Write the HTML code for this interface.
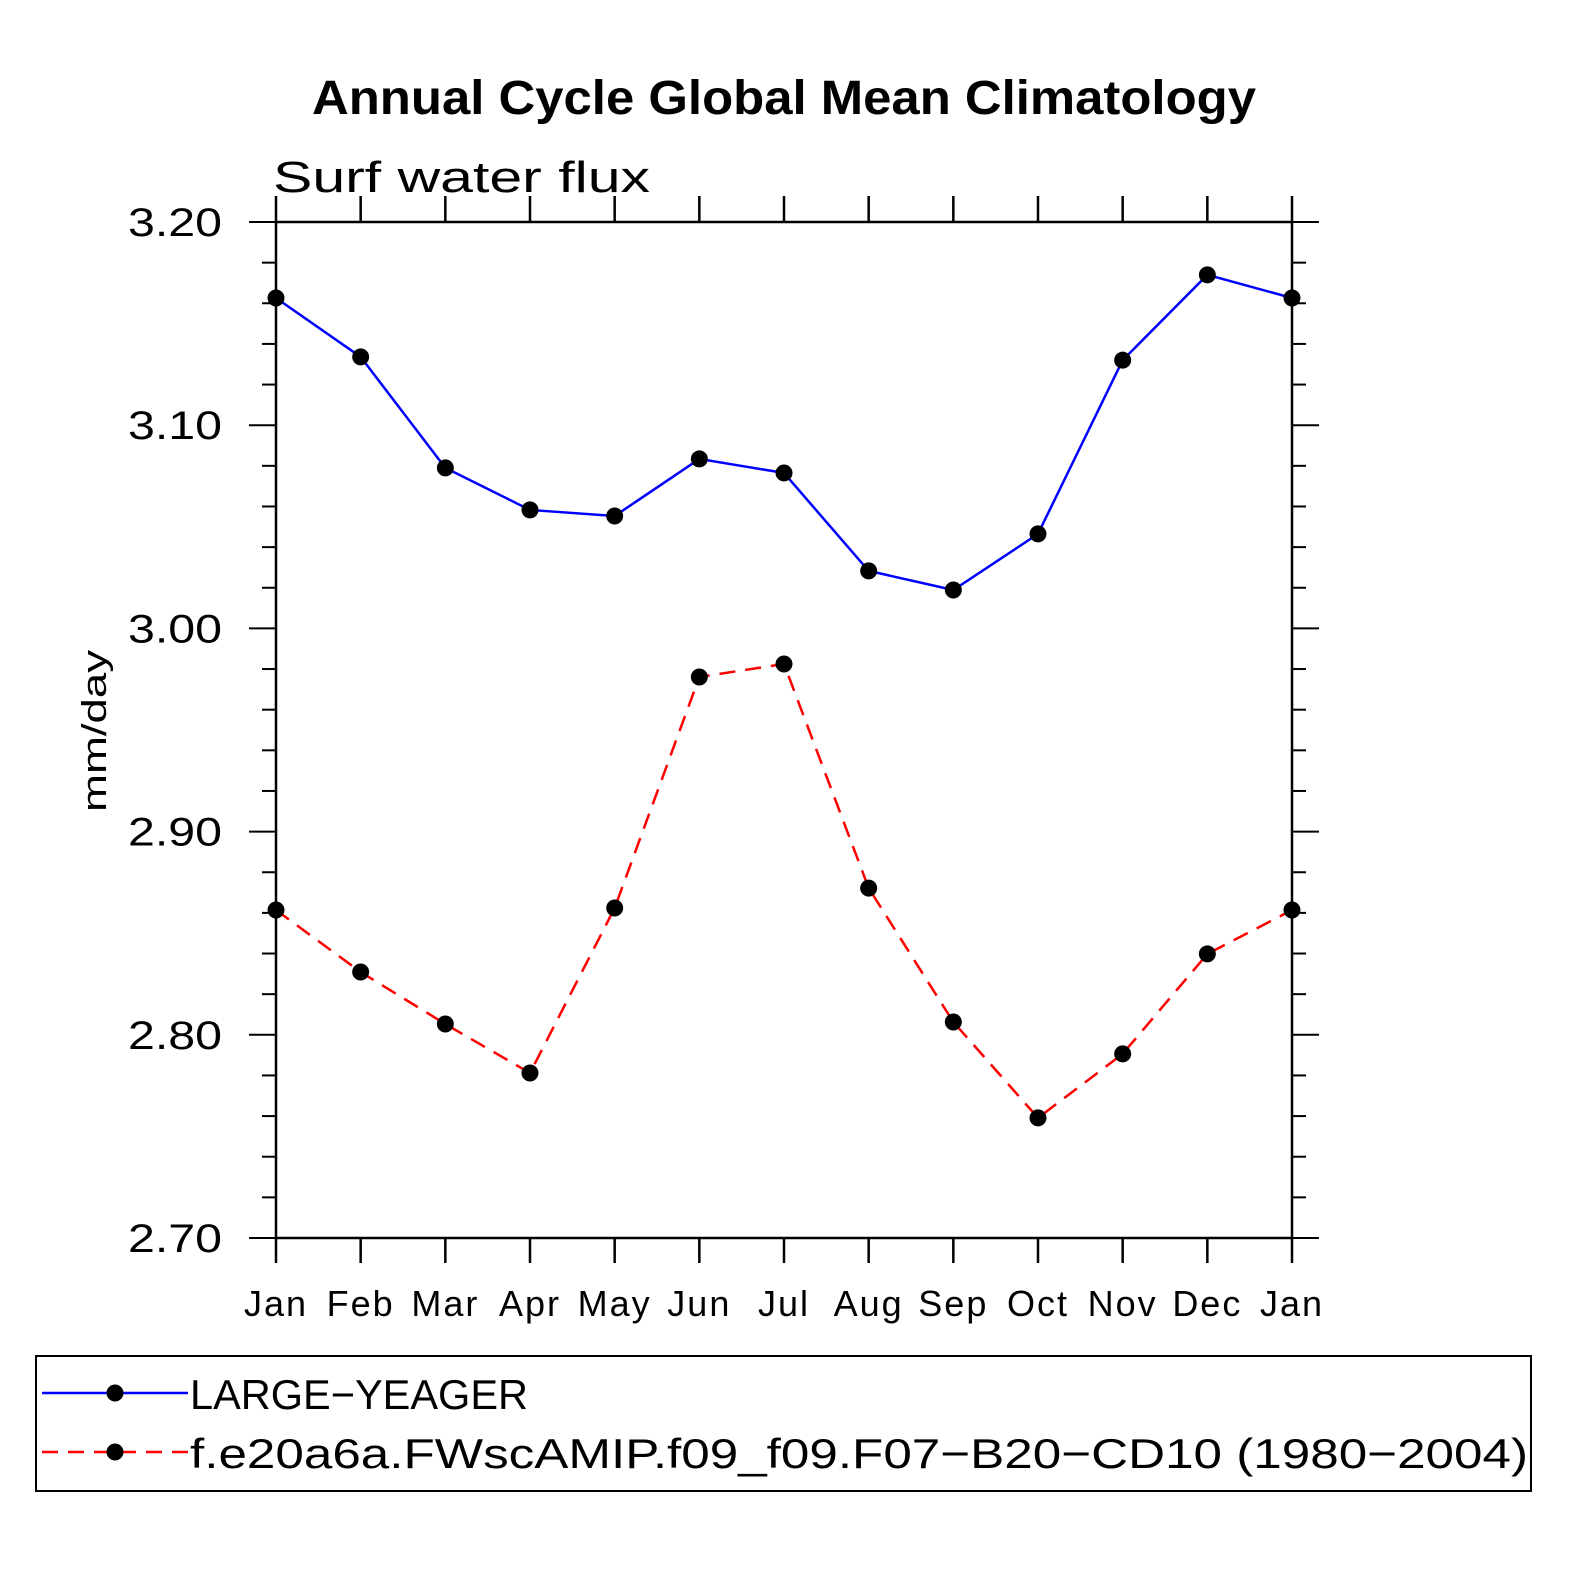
<!DOCTYPE html>
<html><head><meta charset="utf-8"><style>
html,body{margin:0;padding:0;background:#fff;}
svg{display:block;}
text{font-family:"Liberation Sans",sans-serif;}
</style></head><body>
<svg id="chart" width="1574" height="1574" viewBox="0 0 1574 1574">
<text x="312" y="114" textLength="944" lengthAdjust="spacingAndGlyphs" font-size="48" font-weight="bold">Annual Cycle Global Mean Climatology</text>
<text x="273" y="192" textLength="377" lengthAdjust="spacingAndGlyphs" font-size="44">Surf water flux</text>
<text transform="translate(106,731) rotate(-90)" x="-81" y="0" textLength="162" lengthAdjust="spacingAndGlyphs" font-size="34">mm/day</text>
<g id="axes"></g>
<g id="series"></g>
<rect x="36" y="1356" width="1495" height="135" fill="none" stroke="#000" stroke-width="2"/>
<g>
<line x1="42" y1="1393" x2="188" y2="1393" stroke="#0000ff" stroke-width="2.5"/>
<circle cx="115" cy="1393" r="8.5" fill="#000"/>
<text x="190" y="1409" textLength="338" lengthAdjust="spacingAndGlyphs" font-size="42">LARGE−YEAGER</text>
</g>
<g>
<line x1="42" y1="1452" x2="188" y2="1452" stroke="#ff0000" stroke-width="2.5" stroke-dasharray="16,10"/>
<circle cx="115" cy="1452" r="8.5" fill="#000"/>
<text x="190" y="1468" textLength="1338" lengthAdjust="spacingAndGlyphs" font-size="42">f.e20a6a.FWscAMIP.f09_f09.F07−B20−CD10 (1980−2004)</text>
</g>
</svg>
<script>
const months=["Jan","Feb","Mar","Apr","May","Jun","Jul","Aug","Sep","Oct","Nov","Dec","Jan"];
const largeYeager=[3.1626,3.1336,3.079,3.0583,3.0553,3.0834,3.0765,3.0283,3.0189,3.0465,3.132,3.174,3.1626];
const modelRun=[2.8614,2.8309,2.8053,2.7812,2.8624,2.9761,2.9825,2.8722,2.8063,2.7591,2.7906,2.8398,2.8614];
const yTicks=[2.70,2.80,2.90,3.00,3.10,3.20];
const NS="http://www.w3.org/2000/svg";
const X0=276,X1=1292,Y0=1238,Y1=222,YMIN=2.7,YMAX=3.2;
function xs(i){return X0+(X1-X0)*i/(months.length-1);}
function ys(v){return Y0-(v-YMIN)/(YMAX-YMIN)*(Y0-Y1);}
function mk(tag,attrs,parent){const e=document.createElementNS(NS,tag);for(const k in attrs)e.setAttribute(k,attrs[k]);parent.appendChild(e);return e;}
const ax=document.getElementById('axes');
const frame=mk('rect',{x:X0,y:Y1,width:X1-X0,height:Y0-Y1,fill:'none',stroke:'#000','stroke-width':2.5},ax);


months.forEach((m,i)=>{
  const x=xs(i);
  mk('line',{x1:x,y1:Y0,x2:x,y2:Y0+25,stroke:'#000','stroke-width':2.5},ax);
  mk('line',{x1:x,y1:Y1,x2:x,y2:Y1-26,stroke:'#000','stroke-width':2.5},ax);
  const t=mk('text',{x:x,y:1316,'text-anchor':'middle','font-size':36,'letter-spacing':2},ax);
  t.textContent=m;
  
  
});
for(let k=0;k<=25;k++){
  const v=YMIN+k*0.02;const y=ys(v);
  const major=k%5===0;
  const L=major?27:14;
  mk('line',{x1:X0-L,y1:y,x2:X0,y2:y,stroke:'#000','stroke-width':2},ax);
  mk('line',{x1:X1,y1:y,x2:X1+L,y2:y,stroke:'#000','stroke-width':2},ax);
}
yTicks.forEach(v=>{
  const t=mk('text',{x:128,y:ys(v)+14,textLength:94,lengthAdjust:'spacingAndGlyphs','font-size':40},ax);
  t.textContent=v.toFixed(2);
  
  
});
const sg=document.getElementById('series');
function series(vals,color,dash,name){
  const g=mk('g',{},sg);
  
  
  const pts=vals.map((v,i)=>xs(i)+','+ys(v)).join(' ');
  const a={points:pts,fill:'none',stroke:color,'stroke-width':2.5};
  if(dash)a['stroke-dasharray']=dash;
  mk('polyline',a,g);
  vals.forEach((v,i)=>{
    const c=mk('circle',{cx:xs(i),cy:ys(v),r:8.5,fill:'#000'},g);
    
    
  });
}
series(largeYeager,'#0000ff',null,'series-large-yeager');
series(modelRun,'#ff0000','16,10','series-model-run');
</script>
</body></html>
